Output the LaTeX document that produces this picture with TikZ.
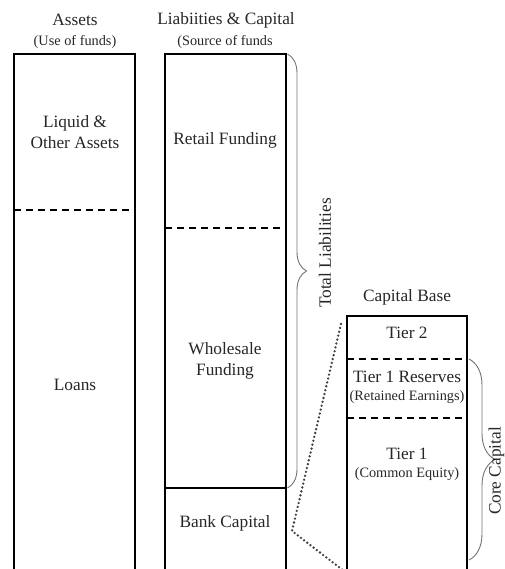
\documentclass[tikz,border=0pt]{standalone}
\usepackage{fontspec}
\setmainfont{Liberation Serif}
\usetikzlibrary{decorations.pathreplacing}
\begin{document}
\begin{tikzpicture}[x=1pt,y=-1pt,
  boxline/.style={line width=2pt, line join=miter},
  sepline/.style={line width=1.8pt, dash pattern=on 7pt off 5pt},
  bigtxt/.style={font=\fontsize{17.3}{20.5}\selectfont, text=black!85, align=center, inner sep=0pt},
  smtxt/.style={font=\fontsize{14.3}{17}\selectfont, text=black!85, align=center, inner sep=0pt},
  bracestyle/.style={draw=black!55, line width=0.9pt, decorate},
  dotline/.style={line width=2.6pt, line cap=round, dash pattern=on 0pt off 4pt, draw=black!75}]
\useasboundingbox (0,0) rectangle (504,569);
\begin{scope}
\clip (0,0) rectangle (504,569);
% Assets column
\draw[boxline] (14,575) -- (14,54) -- (135,54) -- (135,575);
\draw[sepline] (14,210) -- (135,210);
% Liabilities column
\draw[boxline] (165,575) -- (165,54) -- (286,54) -- (286,575);
\draw[sepline] (165,228) -- (286,228);
\draw[boxline] (165,488) -- (286,488);
% Capital base column
\draw[boxline] (347,575) -- (347,316) -- (467,316) -- (467,575);
\draw[sepline] (347,359) -- (467,359);
\draw[sepline] (347,418) -- (467,418);
% braces
\draw[bracestyle, decoration={brace, amplitude=19pt}] (287.5,54) -- (287.5,488);
\draw[bracestyle, decoration={brace, amplitude=26pt}] (469,359) -- (469,560);
% dotted links
\coordinate (cbtop) at (341,324);
\coordinate (piv) at (292,531);
\coordinate (cbbot) at (344,571);
\draw[dotline] (cbtop) -- (piv) -- (cbbot);
\end{scope}
% headers
\node[bigtxt] (hA) at (75,20) {Assets};
\node[smtxt] (hAs) at (75,42) {(Use of funds)};
\node[bigtxt] (hL) at (226,20) {Liabiities \& Capital};
\node[smtxt] (hLs) at (225,42) {(Source of funds};
\node[bigtxt] (hC) at (407,297) {Capital Base};
% texts
\node[bigtxt] (liq) at (75,132) {Liquid \&\\Other Assets};
\node[bigtxt] (loans) at (75,385) {Loans};
\node[bigtxt] (retail) at (225,140) {Retail Funding};
\node[bigtxt] (whole) at (225,361) {Wholesale\\Funding};
\node[bigtxt] (bank) at (225,523) {Bank Capital};
\node[bigtxt] (t2) at (407,333) {Tier 2};
\node[bigtxt] (t1r) at (407,377) {Tier 1 Reserves};
\node[smtxt] (t1rs) at (407,397) {(Retained Earnings)};
\node[bigtxt] (t1) at (407,454) {Tier 1};
\node[smtxt] (t1s) at (407,474) {(Common Equity)};
\node[bigtxt, rotate=90] (totl) at (325,253) {Total Liabilities};
\node[bigtxt, rotate=90] (core) at (496.5,471) {Core Capital};
\end{tikzpicture}
\end{document}
